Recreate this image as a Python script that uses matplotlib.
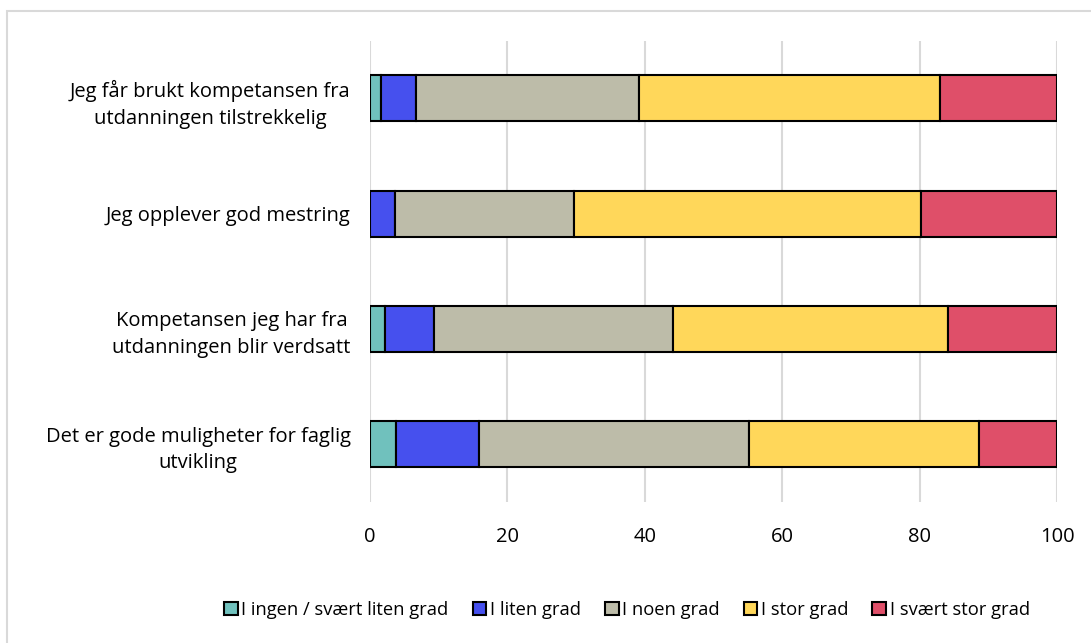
import numpy as np
import matplotlib
matplotlib.use("Agg")
import matplotlib.pyplot as plt
from matplotlib.patches import Rectangle

plt.rcParams['font.family'] = ['Open Sans', 'DejaVu Sans']

# data (percent)
categories = [
    "Jeg får brukt kompetansen fra\nutdanningen tilstrekkelig",
    "Jeg opplever god mestring",
    "Kompetansen jeg har fra\nutdanningen blir verdsatt",
    "Det er gode muligheter for faglig\nutvikling",
]
series_names = ["I ingen / svært liten grad", "I liten grad", "I noen grad",
                "I stor grad", "I svært stor grad"]
ingen = [1.6, 0.0, 2.2, 3.8]
liten = [5.1, 3.6, 7.1, 12.1]
noen = [32.5, 26.1, 34.8, 39.3]
stor = [43.7, 50.5, 40.0, 33.5]
svaert_stor = [17.1, 19.8, 15.9, 11.3]
colors = ["#70C1BD", "#4650EE", "#BDBCA9", "#FFD75A", "#DF4F69"]
x_ticks = [0, 20, 40, 60, 80, 100]

fs = 14.5

fig = plt.figure(figsize=(10.91, 6.43), dpi=100)
ax = fig.add_axes([370 / 1091, 1 - 501.7 / 643, 687 / 1091, 461 / 643])

y = np.arange(len(categories))
left = np.zeros(len(categories))
for name, vals, c in zip(series_names, [ingen, liten, noen, stor, svaert_stor], colors):
    vals = np.array(vals)
    ax.barh(y, vals, left=left, height=0.4, color=c, edgecolor="black",
            linewidth=1.5, label=name, zorder=3)
    left += vals

ax.set_ylim(len(categories) - 0.5, -0.5)
ax.set_xlim(0, 100)
ax.set_xticks(x_ticks)
ax.set_yticks(y)
ax.set_yticklabels(categories, fontsize=15, ha="right", multialignment="center",
                   linespacing=1.45)
ax.tick_params(axis="both", length=0, labelsize=fs)
ax.tick_params(axis="y", pad=14)
ax.tick_params(axis="x", pad=18)
ax.grid(axis="x", color="#D9D9D9", linewidth=1.5, zorder=0)
for s in ax.spines.values():
    s.set_visible(False)

handles, labels = ax.get_legend_handles_labels()
fig.legend(handles, labels, loc="center", bbox_to_anchor=(627 / 1091, 1 - 610 / 643),
           ncol=5, frameon=False, fontsize=13.2, handlelength=0.75,
           handleheight=0.75, handletextpad=0.2, columnspacing=1.3)

# light outer frame
fig.patches.append(Rectangle((7 / 1091, -0.1), 1.2, 1 - 11 / 643 + 0.1,
                             transform=fig.transFigure, fill=False,
                             edgecolor="#D9D9D9", linewidth=1.5))

fig.savefig("out.png", dpi=100)
